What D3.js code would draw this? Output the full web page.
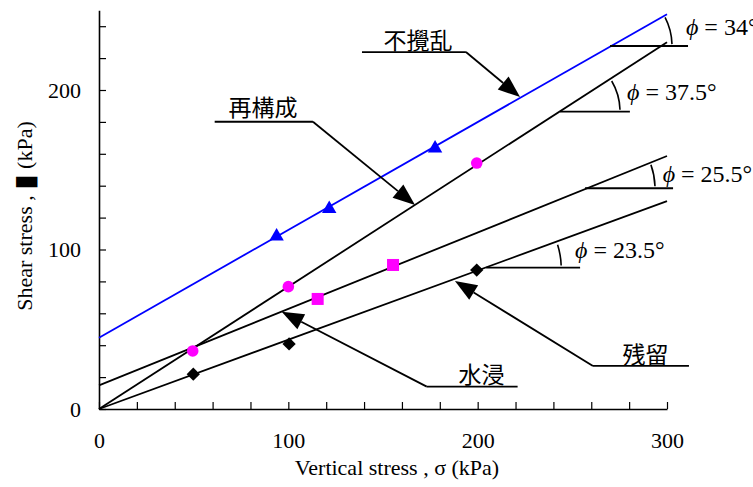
<!DOCTYPE html>
<html><head><meta charset="utf-8">
<script src="https://cdn.jsdelivr.net/npm/d3@7"></script>
<style>body{margin:0;background:#fff} svg{display:block}</style>
</head><body>
<svg id="c" width="753" height="487"></svg>
<script>
// ---------- data ----------
const xTicks = [0,20,40,60,80,100,120,140,160,180,200,220,240,260,280,300];
const yTicks = [0,20,40,60,80,100,120,140,160,180,200,220,240];
const xTickLabels = [0,100,200,300];
const yTickLabels = [0,100,200];

// measured points
const undisturbedPts   = [[93.8,108.2],[121.6,125.5],[177.5,163.4]];   // 不攪乱, blue triangles
const reconstitutedPts = [[49.5,36.4],[100,76.7],[199.5,154.2]];        // 再構成, magenta circles
const soakedPts        = [[115.5,69],[155.3,90.3]];                     // 水浸, magenta squares
const residualPts      = [[49.8,21.8],[100.4,40.8],[199.5,87.1]];       // 残留, black diamonds

// fitted failure lines (endpoints)
const undisturbedLine   = [[0,44.7],[300,247.5]];
const reconstitutedLine = [[0,0],[300,230]];
const soakedLine        = [[0,14.8],[300,158.6]];
const residualLine      = [[0,0],[300,130.3]];

// callout labels: text, underline x0,x1,y, arrow tip, label position
const calloutTexts = ["不攪乱","再構成","水浸","残留"];
const calloutUnder = [[138.9,193.8,223.8],[61.1,113.0,180.1],[173.1,221.1,14.0],[260.9,311.6,27.0]];
const calloutFrom  = ["right","right","left","left"];
const calloutTips  = [[222.4,195.6],[166.9,127.9],[96.5,61.0],[188.0,80.3]];
const calloutLabel = [[168.5,225.8],[86.6,183.7],[202.0,16.4],[288.6,28.8]];

// friction angle annotations
const phiTexts  = ["34°","37.5°","25.5°","23.5°"];
const phiVertex = [[269.9,227.6],[243.5,186.5],[256.7,138.4],[204.5,88.6]];
const phiHEnd   = [311.1,280.4,303.2,254.1];
const phiText   = [[310.0,234.5],[278.9,193.7],[297.7,142.5],[251.4,94.5]];

// ---------- drawing ----------
const svg = d3.select("#c");
const x = d3.scaleLinear().domain([0,300]).range([99,667]);
const y = d3.scaleLinear().domain([0,250]).range([409,10.25]);
const serif = "Liberation Serif";
const cjk = "Noto Sans CJK JP";

// axes
const xAxis = d3.axisBottom(x).tickValues(xTicks).tickSizeInner(-7).tickSizeOuter(0).tickPadding(23)
  .tickFormat(d => xTickLabels.includes(d) ? d : "");
const yAxis = d3.axisLeft(y).tickValues(yTicks).tickSizeInner(-7).tickSizeOuter(0).tickPadding(18)
  .tickFormat(d => yTickLabels.includes(d) ? d : "");

const gx = svg.append("g").attr("transform","translate(0,409)").call(xAxis);
const gy = svg.append("g").attr("transform","translate(99,0)").call(yAxis);
[gx,gy].forEach(g=>{
  g.attr("font-family",serif).attr("font-size",22);
  g.select(".domain").attr("stroke","#000").attr("stroke-width",1.6);
  g.selectAll(".tick line").attr("stroke","#000").attr("stroke-width",1.2);
  g.selectAll(".tick text").attr("font-family",serif).attr("font-size",22).attr("fill","#000");
});

// axis titles
svg.append("text").attr("x",397).attr("y",475).attr("text-anchor","middle")
  .attr("font-family",serif).attr("font-size",22).attr("fill","#000")
  .text("Vertical stress , σ (kPa)");

const yt = svg.append("text").attr("transform","translate(32,216) rotate(-90)")
  .attr("text-anchor","middle").attr("font-family",serif).attr("font-size",22).attr("fill","#000");
yt.append("tspan").text("Shear stress ,  ");
yt.append("tspan").attr("font-family","DejaVu Sans").attr("font-size",28).attr("dy",2).text("▮");
yt.append("tspan").attr("dy",-2).text("  (kPa)");

// lines
const line = d3.line().x(d=>x(d[0])).y(d=>y(d[1]));
const lines = [
  {d: reconstitutedLine, c:"#000"},
  {d: soakedLine, c:"#000"},
  {d: residualLine, c:"#000"},
  {d: undisturbedLine, c:"#0000ff"}
];
svg.append("g").selectAll("path").data(lines).join("path")
  .attr("d",l=>line(l.d)).attr("fill","none").attr("stroke",l=>l.c).attr("stroke-width",1.8);

// markers
svg.append("g").selectAll("path").data(undisturbedPts).join("path")
  .attr("transform",d=>`translate(${x(d[0])},${y(d[1])})`)
  .attr("d",d3.symbol(d3.symbolTriangle,90)()).attr("fill","#0000ff");
svg.append("g").selectAll("circle").data(reconstitutedPts).join("circle")
  .attr("cx",d=>x(d[0])).attr("cy",d=>y(d[1])).attr("r",5.8).attr("fill","#ff00ff");
svg.append("g").selectAll("rect").data(soakedPts).join("rect")
  .attr("x",d=>x(d[0])-6).attr("y",d=>y(d[1])-6).attr("width",12).attr("height",12).attr("fill","#ff00ff");
svg.append("g").selectAll("path").data(residualPts).join("path")
  .attr("transform",d=>`translate(${x(d[0])},${y(d[1])}) rotate(45)`)
  .attr("d",d3.symbol(d3.symbolSquare,88)()).attr("fill","#000");

// callouts
const cg = svg.append("g");
calloutTexts.forEach((t,i)=>{
  const [u0,u1,uy] = calloutUnder[i];
  const sx = calloutFrom[i]==="right" ? x(u1) : x(u0);
  const sy = y(uy);
  const tx = x(calloutTips[i][0]), ty = y(calloutTips[i][1]);
  cg.append("line").attr("x1",x(u0)).attr("x2",x(u1)).attr("y1",sy).attr("y2",sy)
    .attr("stroke","#000").attr("stroke-width",1.8);
  const ang = Math.atan2(ty-sy, tx-sx);
  const L = 22, hw = 8.5;
  const bx = tx - L*Math.cos(ang), by = ty - L*Math.sin(ang);
  cg.append("line").attr("x1",sx).attr("y1",sy).attr("x2",bx).attr("y2",by)
    .attr("stroke","#000").attr("stroke-width",1.8);
  const px = -Math.sin(ang), py = Math.cos(ang);
  cg.append("path").attr("d",`M${tx},${ty}L${bx+hw*px},${by+hw*py}L${bx-hw*px},${by-hw*py}Z`)
    .attr("fill","#000");
  cg.append("text").attr("x",x(calloutLabel[i][0])).attr("y",y(calloutLabel[i][1]))
    .attr("text-anchor","middle").attr("font-family",cjk).attr("font-size",23).attr("fill","#000")
    .text(t);
});

// phi annotations
const lineFor = [undisturbedLine, reconstitutedLine, soakedLine, residualLine];
const radii = [62, 60, 70, 75];
const pg = svg.append("g");
phiTexts.forEach((t,i)=>{
  const vx = x(phiVertex[i][0]), vy = y(phiVertex[i][1]);
  pg.append("line").attr("x1",vx).attr("x2",x(phiHEnd[i])).attr("y1",vy).attr("y2",vy)
    .attr("stroke","#000").attr("stroke-width",1.8);
  const L = lineFor[i];
  const a = Math.atan2(-(y(L[1][1])-y(L[0][1])), x(L[1][0])-x(L[0][0]));
  const r = radii[i];
  const a0 = 0.03, a1 = a - 0.04;
  const p0 = [vx + r*Math.cos(a0), vy - r*Math.sin(a0)];
  const p1 = [vx + r*Math.cos(a1), vy - r*Math.sin(a1)];
  pg.append("path").attr("d",`M${p0[0]},${p0[1]}A${r},${r} 0 0 0 ${p1[0]},${p1[1]}`)
    .attr("fill","none").attr("stroke","#000").attr("stroke-width",1.6);
  const tx = pg.append("text").attr("x",x(phiText[i][0])).attr("y",y(phiText[i][1]))
    .attr("font-family",serif).attr("font-size",24).attr("fill","#000");
  tx.append("tspan").attr("font-style","italic").text("ϕ");
  tx.append("tspan").text(" = " + t);
});
</script>
</body></html>
